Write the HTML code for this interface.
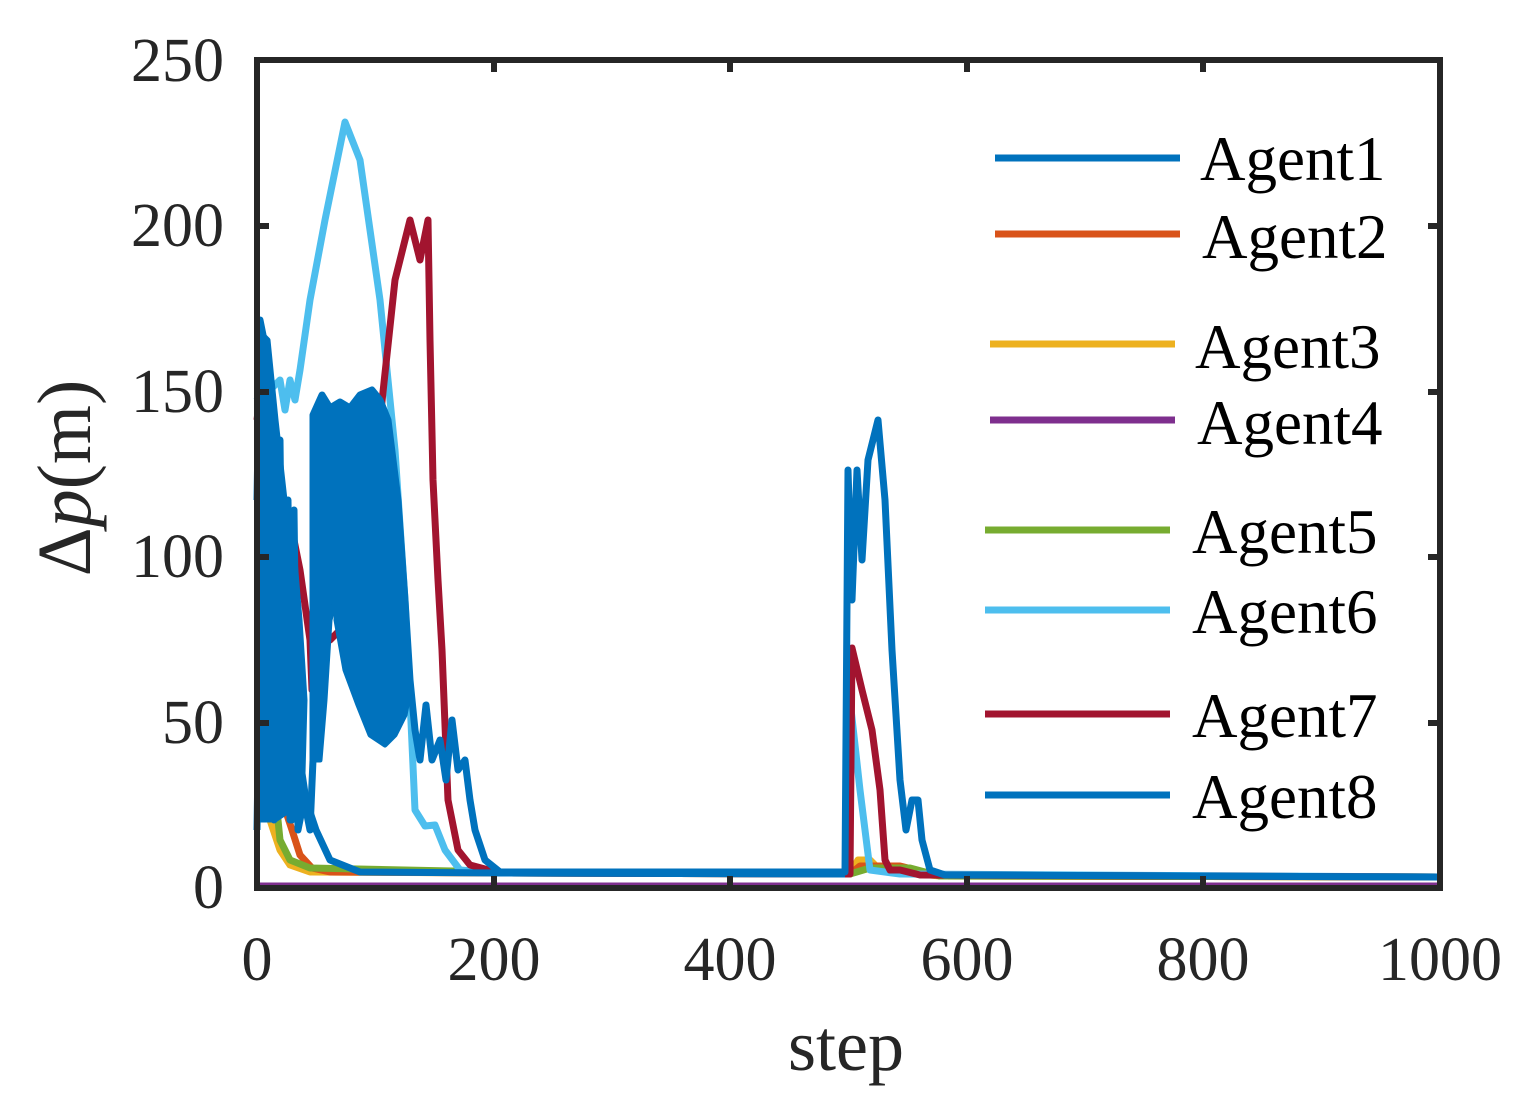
<!DOCTYPE html>
<html><head><meta charset="utf-8"><style>body{margin:0;background:#fff}svg{display:block}</style></head><body>
<svg width="1526" height="1115" viewBox="0 0 1526 1115" xmlns="http://www.w3.org/2000/svg" font-family="Liberation Serif, serif">
<rect width="1526" height="1115" fill="#fff"/>
<g fill="none" stroke-width="7" stroke-linejoin="round">
<line x1="257" y1="886" x2="1440" y2="886" stroke="#7e2f8e" stroke-width="7"/>
<polyline stroke="#edb120" points="270,820 280,850 290,865 310,872 500,873 850,874 858,860 870,860 880,870 940,876 1440,877"/>
<polyline stroke="#d95319" points="262,520 272,560 282,800 292,830 300,855 312,868 330,872 500,873 850,874 860,866 900,866 940,876 1440,877"/>
<polyline stroke="#77ac30" points="265,660 272,760 280,840 290,860 310,868 500,872 850,874 870,868 910,868 940,876 1440,877"/>
<polyline stroke="#4dbeee" points="257,400 262,385 270,390 280,380 285,410 290,380 295,400 300,370 310,300 325,220 345,122 360,160 380,300 395,450 405,600 410,700 415,810 425,826 435,825 445,850 460,870 500,873 845,874 848,870 850,700 860,790 870,870 900,874 1440,877"/>
<polyline stroke="#a2142f" points="257,420 262,380 268,460 275,470 283,500 290,520 300,570 310,640 312,690 318,640 330,640 360,610 380,420 395,280 410,220 420,260 428,220 430,340 433,480 438,580 442,650 448,800 458,850 470,865 500,873 850,874 852,648 862,690 872,730 880,790 885,860 890,870 900,870 920,875 1440,877"/>
<polyline stroke="#0072bd" points="257,500 260,320 264,340 268,420 270,700 273,560 276,700 280,440 284,780 288,500 292,820 296,700 300,760 306,800 316,830 330,860 360,872 500,873 845,874"/>
<polyline stroke="#0072bd" points="257,830 262,500 266,780 270,520 274,820 278,490 282,810 287,540 290,820 294,510 298,830 304,800 310,830 313,760 313,415 322,395 330,408 340,402 350,408 360,395 372,390 380,400 388,420 398,500 405,600 410,680 415,730 420,760 426,705 432,760 440,740 446,780 452,720 458,770 465,760 470,800 475,830 485,860 500,872 845,872 848,470 852,600 857,470 862,560 868,460 878,420 885,500 892,650 900,780 906,830 912,800 918,800 922,840 930,870 945,875 1440,877"/>
<polygon fill="#0072bd" stroke="#0072bd" stroke-width="5" points="313,415 322,395 330,408 340,402 350,408 360,395 372,390 380,400 388,420 398,500 405,600 410,690 405,715 395,735 385,745 370,735 358,705 345,670 336,620 337,593 330,620 325,700 320,760 313,760"/>
<polygon fill="#0072bd" stroke="#0072bd" stroke-width="5" points="258,330 268,340 276,420 285,500 295,560 300,620 305,700 302,810 290,810 275,820 260,820"/>
</g>
<rect x="257" y="60" width="1183" height="828" fill="none" stroke="#262626" stroke-width="6"/>
<g stroke="#262626" stroke-width="6">
<line x1="494" y1="60" x2="494" y2="72"/><line x1="730" y1="60" x2="730" y2="72"/><line x1="967" y1="60" x2="967" y2="72"/><line x1="1203" y1="60" x2="1203" y2="72"/>
<line x1="494" y1="888" x2="494" y2="876"/><line x1="730" y1="888" x2="730" y2="876"/><line x1="967" y1="888" x2="967" y2="876"/><line x1="1203" y1="888" x2="1203" y2="876"/>
<line x1="257" y1="226" x2="269" y2="226"/><line x1="257" y1="392" x2="269" y2="392"/><line x1="257" y1="557" x2="269" y2="557"/><line x1="257" y1="723" x2="269" y2="723"/>
<line x1="1440" y1="226" x2="1428" y2="226"/><line x1="1440" y1="392" x2="1428" y2="392"/><line x1="1440" y1="557" x2="1428" y2="557"/><line x1="1440" y1="723" x2="1428" y2="723"/>
</g>
<g font-size="62" fill="#262626" text-anchor="end">
<text x="224" y="908">0</text><text x="224" y="743">50</text><text x="224" y="577">100</text><text x="224" y="412">150</text><text x="224" y="246">200</text><text x="224" y="81">250</text>
</g>
<g font-size="62" fill="#262626" text-anchor="middle">
<text x="257" y="980">0</text><text x="494" y="980">200</text><text x="730" y="980">400</text><text x="967" y="980">600</text><text x="1203" y="980">800</text><text x="1440" y="980">1000</text>
<text x="846" y="1070" font-size="72">step</text>
<text transform="translate(90,478) rotate(-90)" font-size="76">Δ<tspan font-style="italic">p</tspan>(m)</text>
</g>
<g stroke-width="7">
<line x1="995" y1="158" x2="1180" y2="158" stroke="#0072bd"/>
<line x1="995" y1="234" x2="1180" y2="234" stroke="#d95319"/>
<line x1="990" y1="344" x2="1175" y2="344" stroke="#edb120"/>
<line x1="990" y1="420" x2="1175" y2="420" stroke="#7e2f8e"/>
<line x1="985" y1="530" x2="1170" y2="530" stroke="#77ac30"/>
<line x1="985" y1="610" x2="1170" y2="610" stroke="#4dbeee"/>
<line x1="985" y1="714" x2="1170" y2="714" stroke="#a2142f"/>
<line x1="985" y1="795" x2="1170" y2="795" stroke="#0072bd"/>
</g>
<g font-size="63" fill="#000">
<text x="1200" y="180">Agent1</text><text x="1202" y="258">Agent2</text>
<text x="1195" y="368">Agent3</text><text x="1197" y="444">Agent4</text>
<text x="1192" y="553">Agent5</text><text x="1192" y="633">Agent6</text>
<text x="1192" y="737">Agent7</text><text x="1192" y="818">Agent8</text>
</g>
</svg>
</body></html>
